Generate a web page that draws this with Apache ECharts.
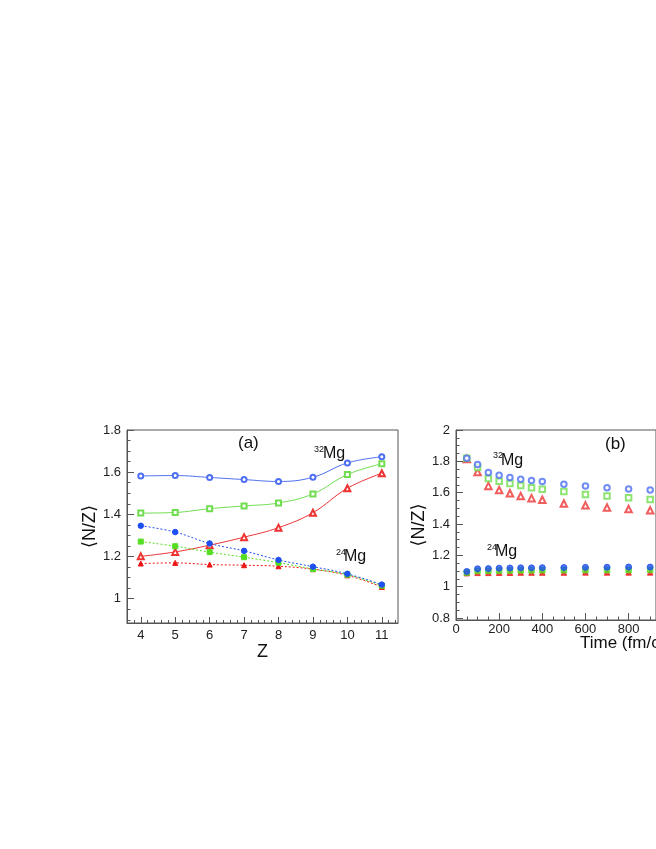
<!DOCTYPE html>
<html>
<head>
<meta charset="utf-8">
<script src="https://cdn.jsdelivr.net/npm/echarts@6/dist/echarts.min.js"></script>
<style>
	html, body { margin: 0; padding: 0; background: #fff; }
	#chart { width: 656px; height: 849px; }
</style>
</head>
<body>
<div id="chart"></div>
<script>
// panel (a): <N/Z> vs Z
var zValues = [4, 5, 6, 7, 8, 9, 10, 11];
var mg32Circle = [1.582, 1.584, 1.575, 1.565, 1.556, 1.576, 1.644, 1.673];
var mg32Square = [1.406, 1.409, 1.427, 1.440, 1.454, 1.497, 1.589, 1.640];
var mg32Triangle = [1.201, 1.222, 1.254, 1.292, 1.337, 1.408, 1.524, 1.595];
var mg24Circle = [1.346, 1.316, 1.262, 1.227, 1.184, 1.152, 1.118, 1.067];
var mg24Square = [1.271, 1.249, 1.221, 1.197, 1.171, 1.141, 1.114, 1.062];
var mg24Triangle = [1.167, 1.170, 1.162, 1.159, 1.154, 1.140, 1.111, 1.056];

// panel (b): <N/Z> vs time
var timeValues = [50, 100, 150, 200, 250, 300, 350, 400, 500, 600, 700, 800, 900];
var tMg32Circle = [1.820, 1.780, 1.728, 1.711, 1.696, 1.686, 1.677, 1.671, 1.653, 1.643, 1.632, 1.623, 1.617];
var tMg32Square = [1.820, 1.760, 1.690, 1.673, 1.658, 1.645, 1.632, 1.621, 1.607, 1.589, 1.578, 1.568, 1.557];
var tMg32Triangle = [1.815, 1.732, 1.643, 1.617, 1.596, 1.578, 1.565, 1.555, 1.531, 1.519, 1.505, 1.495, 1.487];
var tMg24Circle = [1.097, 1.114, 1.115, 1.118, 1.119, 1.120, 1.120, 1.121, 1.122, 1.123, 1.124, 1.125, 1.125];
var tMg24Square = [1.090, 1.100, 1.101, 1.102, 1.103, 1.104, 1.104, 1.105, 1.105, 1.106, 1.106, 1.106, 1.107];
var tMg24Triangle = [1.086, 1.088, 1.088, 1.089, 1.089, 1.090, 1.090, 1.090, 1.090, 1.091, 1.091, 1.091, 1.091];

// tick labels
var xTicksA = [4, 5, 6, 7, 8, 9, 10, 11];
var yTicksA = [1, 1.2, 1.4, 1.6, 1.8];
var xTicksB = [0, 200, 400, 600, 800];
var yTicksB = [0.8, 1, 1.2, 1.4, 1.6, 1.8, 2];

var BLUE = '#4f6ff2', GREEN = '#70dd50', RED = '#ee3333';
var BLUE_F = '#1f4ff0', GREEN_F = '#55dd22', RED_F = '#ee1515';
var AXIS = '#555';
var FONT = 'Liberation Sans, Arial, DejaVu Sans, sans-serif';

function minorTicks(from, to, step, majors) {
	var list = [];
	for (var v = from; v <= to + 1e-9; v += step) {
		var r = Math.round(v * 1000) / 1000;
		if (majors.indexOf(r) < 0) list.push(r);
	}
	return list;
}

function fmt(v) {
	return String(Math.round(v * 10) / 10);
}

function majorAxis(grid, pos, min, max, ticks, len, name, nameGap, margin) {
	var ax = {
		type: 'value', gridIndex: grid, position: pos, min: min, max: max,
		axisLine: { show: true, lineStyle: { color: AXIS, width: 1 } },
		axisTick: { show: true, inside: true, length: len, customValues: ticks, lineStyle: { color: AXIS } },
		axisLabel: { show: true, customValues: ticks, formatter: fmt, color: '#222', fontSize: 13, fontFamily: FONT, margin: margin },
		splitLine: { show: false },
		name: name, nameLocation: 'middle', nameGap: nameGap,
		nameTextStyle: { color: '#111', fontSize: 18, fontFamily: FONT }
	};
	if (pos === 'left') ax.nameRotate = 90;
	return ax;
}

function minorAxis(grid, pos, min, max, ticks, len) {
	return {
		type: 'value', gridIndex: grid, position: pos, min: min, max: max,
		axisLine: { show: false },
		axisTick: { show: true, inside: true, length: len, customValues: ticks, lineStyle: { color: AXIS } },
		axisLabel: { show: false },
		splitLine: { show: false }
	};
}

function pairs(xs, ys) {
	var out = [];
	for (var i = 0; i < xs.length; i++) out.push([xs[i], ys[i]]);
	return out;
}

function curve(name, data, symbol, size, color, dashed) {
	return {
		name: name, type: 'line', xAxisIndex: 0, yAxisIndex: 0,
		data: pairs(zValues, data), smooth: 0.4,
		symbol: symbol, symbolSize: size,
		lineStyle: { color: color, width: 1, type: dashed ? [2, 2] : 'solid' },
		itemStyle: { color: color, borderColor: color, borderWidth: 1 },
		z: dashed ? 3 : 2
	};
}

function dots(name, data, symbol, size, color) {
	return {
		name: name, type: 'scatter', xAxisIndex: 2, yAxisIndex: 2,
		data: pairs(timeValues, data),
		symbol: symbol, symbolSize: size,
		itemStyle: { color: color, borderColor: color, borderWidth: 1 }
	};
}

function label(x, y, text, size) {
	return {
		type: 'text', x: x, y: y, z: 50,
		style: { text: text, fontSize: size, fontFamily: FONT, fill: '#111', verticalAlign: 'top' }
	};
}

var yMinA = 0.885, yMaxA = 1.8, xMinA = 3.6, xMaxA = 11.47;
var yMinB = 0.787, yMaxB = 2.0, xMinB = 0, xMaxB = 927;

var option = {
	backgroundColor: '#fff',
	animation: false,
	grid: [
		{ left: 127, top: 430, width: 271, height: 193, show: true, borderColor: AXIS, borderWidth: 1, backgroundColor: 'transparent' },
		{ left: 456, top: 430, width: 201, height: 190, show: true, borderColor: AXIS, borderWidth: 1, backgroundColor: 'transparent' }
	],
	xAxis: [
		majorAxis(0, 'bottom', xMinA, xMaxA, xTicksA, 6, 'Z', 10, 6),
		minorAxis(0, 'bottom', xMinA, xMaxA, minorTicks(3.6, 11.4, 0.2, xTicksA), 3),
		majorAxis(1, 'bottom', xMinB, xMaxB, xTicksB, 7, '', 15, 3),
		minorAxis(1, 'bottom', xMinB, xMaxB, minorTicks(50, 900, 50, xTicksB), 3.5)
	],
	yAxis: [
		majorAxis(0, 'left', yMinA, yMaxA, yTicksA, 7, '\u27E8N/Z\u27E9', 23, 6),
		minorAxis(0, 'left', yMinA, yMaxA, minorTicks(0.9, 1.8, 0.05, yTicksA), 3.5),
		majorAxis(1, 'left', yMinB, yMaxB, yTicksB, 7, '\u27E8N/Z\u27E9', 23, 6),
		minorAxis(1, 'left', yMinB, yMaxB, minorTicks(0.8, 2.0, 0.05, yTicksB), 3.5)
	],
	series: [
		curve('32Mg circle', mg32Circle, 'emptyCircle', 5, BLUE, false),
		curve('32Mg square', mg32Square, 'emptyRect', 5, GREEN, false),
		curve('32Mg triangle', mg32Triangle, 'emptyTriangle', 6, RED, false),
		curve('24Mg triangle', mg24Triangle, 'triangle', 5, RED_F, true),
		curve('24Mg square', mg24Square, 'rect', 5, GREEN_F, true),
		curve('24Mg circle', mg24Circle, 'circle', 5.5, BLUE_F, true),
		dots('32Mg triangle t', tMg32Triangle, 'emptyTriangle', 6.5, RED),
		dots('32Mg square t', tMg32Square, 'emptyRect', 5.5, GREEN),
		dots('32Mg circle t', tMg32Circle, 'emptyCircle', 5.5, BLUE),
		dots('24Mg triangle t', tMg24Triangle, 'triangle', 5.5, RED_F),
		dots('24Mg square t', tMg24Square, 'rect', 5.5, GREEN_F),
		dots('24Mg circle t', tMg24Circle, 'circle', 6, BLUE_F)
	],
	graphic: [
		label(238, 435, '(a)', 17),
		label(314, 445, '32', 9),
		label(323, 446, 'Mg', 16),
		label(336, 548, '24', 9),
		label(344, 549, 'Mg', 16),
		label(605, 436, '(b)', 17),
		label(493, 451, '32', 9),
		label(501, 453, 'Mg', 16),
		label(487, 543, '24', 9),
		label(495, 544, 'Mg', 16),
		label(580, 635, 'Time (fm/c)', 17)
	]
};

var myChart = echarts.init(document.getElementById('chart'));
myChart.setOption(option);
</script>
</body>
</html>
